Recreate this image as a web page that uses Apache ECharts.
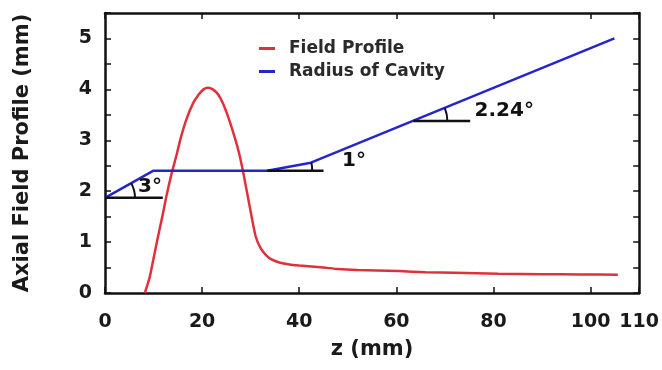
<!DOCTYPE html>
<html>
<head>
<meta charset="utf-8">
<script src="https://cdn.jsdelivr.net/npm/echarts@6/dist/echarts.min.js"></script>
<style>
  html, body { margin: 0; padding: 0; background: #fff; }
  #chart { width: 662px; height: 370px; }
</style>
</head>
<body>
<div id="chart"></div>
<script>
// field profile (red)
const fieldZ = [8.2, 9.2, 10.0, 10.9, 11.8, 12.6, 13.6, 14.7, 15.7, 16.8, 18.1, 19.3, 20.3, 21.2, 22.2, 23.3, 24.3, 25.5, 26.7, 27.6, 28.4, 29.7, 31.0, 32.1, 33.2, 34.3, 35.9, 38.0, 40.0, 42.5, 45.0, 48.0, 52.0, 56.0, 60.5, 66.0, 72.0, 81.0, 90.0, 98.0, 105.6];
const fieldE = [0.0, 0.31, 0.68, 1.1, 1.5, 1.88, 2.3, 2.7, 3.08, 3.42, 3.72, 3.9, 4.0, 4.03, 4.0, 3.9, 3.72, 3.42, 3.06, 2.75, 2.4, 1.75, 1.12, 0.87, 0.74, 0.66, 0.6, 0.56, 0.54, 0.52, 0.5, 0.47, 0.45, 0.44, 0.43, 0.41, 0.4, 0.38, 0.37, 0.365, 0.36];

// cavity radius (blue)
const radiusZ = [0, 9.9, 33.4, 42.4, 104.9];
const radiusR = [1.87, 2.4, 2.4, 2.56, 5.0];

// angle annotations
const angleVertexZ = [0, 33.4, 63.5];
const angleVertexR = [1.87, 2.4, 3.38];
const angleBaseEndZ = [11.9, 45.0, 75.2];
const angleLabelZ = [6.8, 48.8, 76.1];
const angleLabelR = [2.09, 2.6, 3.58];
const angleLabels = ['3°', '1°', '2.24°'];

const yTicks = [0, 1, 2, 3, 4, 5];

const chart = echarts.init(document.getElementById('chart'));
const FONT = 'DejaVu Sans';
const arcRadius = [30, 45, 34];

const fieldData = fieldZ.map((z, i) => [z, fieldE[i]]);
const radiusData = radiusZ.map((z, i) => [z, radiusR[i]]);
const angleData = angleVertexZ.map((z, i) => {
  // next point on the blue line gives the direction of the slope
  const k = radiusZ.findIndex(rz => rz > z + 1);
  return [z, angleVertexR[i], angleBaseEndZ[i], radiusZ[k], radiusR[k], angleLabelZ[i], angleLabelR[i]];
});

const axisCommon = {
  axisLine: { show: true, onZero: false, lineStyle: { color: '#111', width: 2.5 } },
  axisTick: { show: true, inside: true, length: 6, lineStyle: { color: '#111', width: 1.5 } },
  splitLine: { show: false }
};

chart.setOption({
  animation: false,
  grid: { left: 105, right: 21, top: 13, bottom: 77 },
  legend: {
    data: ['Field Profile', 'Radius of Cavity'],
    orient: 'vertical',
    left: 254,
    top: 35,
    itemWidth: 16,
    itemHeight: 3,
    itemGap: 6,
    icon: 'rect',
    textStyle: { fontFamily: FONT, fontWeight: 'bold', fontSize: 17, color: '#2a2a2a', padding: [0, 0, 0, 9] }
  },
  xAxis: [
    Object.assign({}, axisCommon, {
      type: 'value', min: 0, max: 110, interval: 20,
      name: 'z (mm)', nameLocation: 'middle', nameGap: 46,
      nameTextStyle: { fontFamily: FONT, fontWeight: 'bold', fontSize: 21, color: '#1a1a1a' },
      axisLabel: { fontFamily: FONT, fontWeight: 'bold', fontSize: 19, color: '#1a1a1a', margin: 20 }
    }),
    Object.assign({}, axisCommon, {
      type: 'value', position: 'top', min: 0, max: 110, interval: 20,
      axisLabel: { show: false }
    })
  ],
  yAxis: [
    Object.assign({}, axisCommon, {
      type: 'value', min: 0, max: 5.5, interval: 0.5,
      name: 'Axial Field Profile (mm)', nameLocation: 'middle', nameGap: 72, nameRotate: 90,
      nameTextStyle: { fontFamily: FONT, fontWeight: 'bold', fontSize: 21, color: '#1a1a1a' },
      axisLabel: {
        fontFamily: FONT, fontWeight: 'bold', fontSize: 19, color: '#1a1a1a', margin: 13,
        formatter: v => (yTicks.indexOf(v) >= 0 ? String(v) : '')
      }
    }),
    Object.assign({}, axisCommon, {
      type: 'value', position: 'right', min: 0, max: 5.5, interval: 0.5,
      axisLabel: { show: false }
    })
  ],
  series: [
    {
      name: 'Field Profile',
      type: 'line',
      data: fieldData,
      showSymbol: false,
      smooth: 0.2,
      color: '#e0303c',
      lineStyle: { color: '#e0303c', width: 2.5 },
      z: 3
    },
    {
      name: 'Radius of Cavity',
      type: 'line',
      data: radiusData,
      showSymbol: false,
      color: '#2626c8',
      lineStyle: { color: '#2626c8', width: 2.5 },
      z: 4
    },
    {
      name: 'angles',
      type: 'custom',
      data: angleData,
      encode: { x: 0, y: 1 },
      z: 5,
      renderItem: function (params, api) {
        const v = api.coord([api.value(0), api.value(1)]);
        const e = api.coord([api.value(2), api.value(1)]);
        const s = api.coord([api.value(3), api.value(4)]);
        const l = api.coord([api.value(5), api.value(6)]);
        const ang = Math.atan2(s[1] - v[1], s[0] - v[0]);
        const r = arcRadius[params.dataIndex];
        return {
          type: 'group',
          children: [
            { type: 'line', shape: { x1: v[0], y1: v[1], x2: e[0], y2: e[1] }, style: { stroke: '#111', lineWidth: 2.5 } },
            { type: 'arc', shape: { cx: v[0], cy: v[1], r: r, startAngle: ang, endAngle: 0, clockwise: true }, style: { stroke: '#111', fill: null, lineWidth: 2 } },
            { type: 'text', x: l[0], y: l[1], style: { text: angleLabels[params.dataIndex], font: 'bold 20px "DejaVu Sans"', fill: '#111', verticalAlign: 'middle', align: 'left' } }
          ]
        };
      }
    }
  ]
});
</script>
</body>
</html>
